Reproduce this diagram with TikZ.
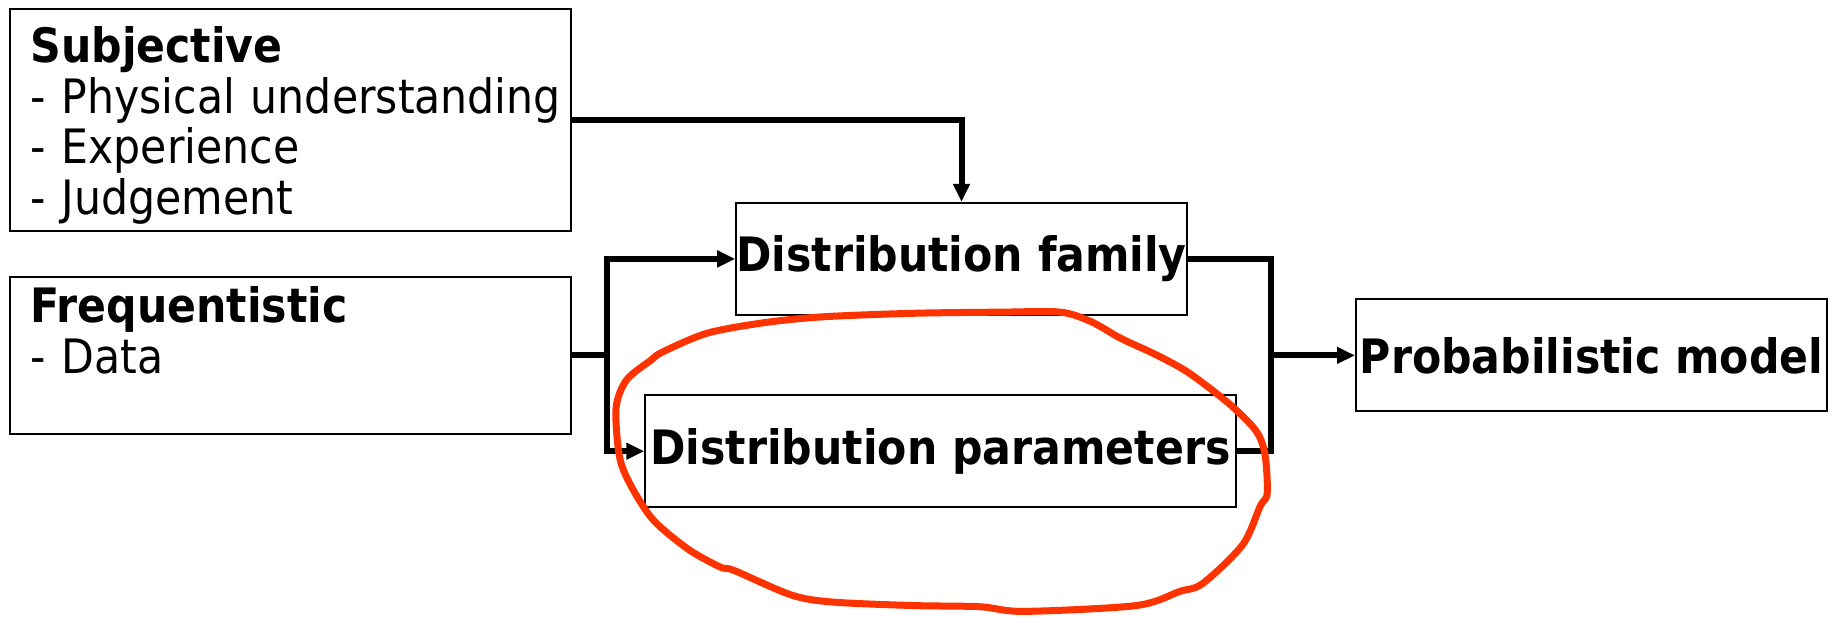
\documentclass[tikz,border=0pt]{standalone}
\usepackage{fontspec}
\setmainfont{DejaVu Sans Condensed}
\usetikzlibrary{arrows.meta}

\newcommand{\boxfont}{\fontsize{23.7pt}{25.3pt}\selectfont}
\definecolor{penred}{RGB}{255,51,0}

\tikzset{
  srcbox/.style={draw, line width=1pt, text width=260pt, inner xsep=10pt, align=left, font=\boxfont},
  stepbox/.style={draw, line width=1pt, inner sep=0pt, font=\boxfont\bfseries, minimum height=56pt},
  flow/.style={line width=3pt, line join=miter},
}

\begin{document}
\begin{tikzpicture}[x=0.5845pt, y=-0.5845pt, >={Triangle[length=9pt,width=8pt]}]
  \useasboundingbox (0,0) rectangle (1568,527);

  % sources on the left
  \node[srcbox, minimum height=109.3pt] (subj) at (248.5,102.5)
    {\rule{0pt}{23.6pt}\textbf{Subjective}\\\mbox{- Physical understanding}\\- Experience\\- Judgement};
  \node[srcbox, minimum height=78.3pt] (freq) at (248.5,304)
    {\textbf{Frequentistic}\\- Data\\\mbox{}};

  % what has to be chosen
  \node[stepbox, minimum width=223.9pt] (fam) at (822.5,221.5) {Distribution family};
  \node[stepbox, minimum width=295.2pt] (par) at (804.5,386) {Distribution parameters};

  \node[stepbox, minimum width=235.6pt] (prob) at (1361.5,304) {Probabilistic model};

  \coordinate (jl) at (519,304);
  \coordinate (jr) at (1087,304);

  \draw[flow,->] (subj.east) -| (fam.north);
  \draw[flow] (freq.east) -- (jl);
  \draw[flow,->] (jl) |- (fam.west);
  \draw[flow,->] (jl) |- (par.west);
  \draw[flow] (fam.east) -| (jr);
  \draw[flow] (par.east) -| (jr);
  \draw[flow,->] (jr) -- (prob.west);

  % hand drawn loop
  \draw[penred, line width=3.5pt, line join=round] plot[smooth cycle, tension=0.5] coordinates {
    (704,271) (781,268) (857,267) (907,267) (933,275) (956,288) (964,292)
    (990,304) (1017,319) (1051,345) (1074,368) (1082,388) (1084,422)
    (1078,433) (1063,466) (1029,499) (1009,506) (972,518) (876,523)
    (838,519) (781,518) (712,515) (677,509) (628,488) (616,485) (589,470)
    (559,445) (540,416) (530,391) (527,349) (536,325) (557,308) (567,301)
    (605,285) (654,276)};
\end{tikzpicture}
\end{document}
